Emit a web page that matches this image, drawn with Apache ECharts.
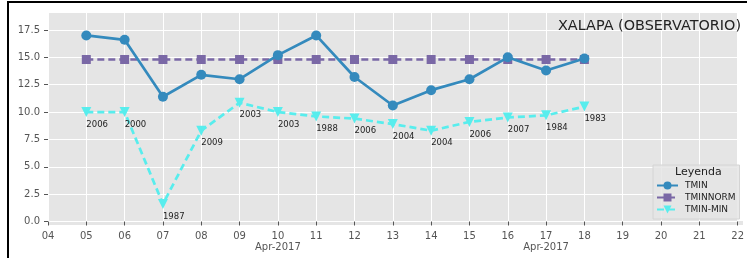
<!DOCTYPE html>
<html style="height: 100%">
<head>
<meta charset="utf-8">
<script src="https://cdn.jsdelivr.net/npm/echarts@6/dist/echarts.min.js"></script>
</head>
<body style="height: 100%; margin: 0; background: #fff">
<div style="position:absolute;left:7px;top:1px;width:740px;height:257px;border-left:2px solid #000;border-top:2px solid #000;box-sizing:border-box"></div>
<div id="container" style="position:absolute;left:0;top:0;width:747px;height:258px"></div>
<script type="text/javascript">
    // dias de abril 2017
    var days = [5, 6, 7, 8, 9, 10, 11, 12, 13, 14, 15, 16, 17, 18];
    var tmin = [17.0, 16.6, 11.4, 13.4, 13.0, 15.2, 17.0, 13.2, 10.6, 12.0, 13.0, 15.0, 13.8, 14.9];
    var tminNorm = [14.8, 14.8, 14.8, 14.8, 14.8, 14.8, 14.8, 14.8, 14.8, 14.8, 14.8, 14.8, 14.8, 14.8];
    var tminMin = [10.0, 10.0, 1.6, 8.3, 10.85, 10.0, 9.6, 9.4, 8.9, 8.3, 9.1, 9.5, 9.7, 10.5];
    var years = ['2006', '2000', '1987', '2009', '2003', '2003', '1988', '2006', '2004', '2004', '2006', '2007', '1984', '1983'];

    function pairs(vals) {
        return days.map(function (d, i) { return [d, vals[i]]; });
    }

    var font = 'DejaVu Sans';
    var dom = document.getElementById("container");
    var myChart = echarts.init(dom);
    var option = {
        animation: false,
        textStyle: { fontFamily: font },
        legend: {
            orient: 'vertical',
            left: 653, top: 165,
            padding: [16, 4, 5, 3],
            itemGap: 3,
            itemWidth: 21,
            itemHeight: 10,
            backgroundColor: 'rgba(229,229,229,0.85)',
            borderColor: '#d4d4d4',
            borderWidth: 1,
            textStyle: { fontFamily: font, fontSize: 9, color: '#222', padding: [0, 0, 0, 2] },
            data: ['TMIN', 'TMINNORM', 'TMIN-MIN']
        },
        graphic: [{
            // franja inferior del fondo bajo el 0.0
            type: 'rect', z: -10,
            shape: { x: 48, y: 221, width: 695, height: 4 },
            style: { fill: '#e5e5e5' }
        }, {
            type: 'text', z: 50,
            x: 558, y: 19,
            style: { text: 'XALAPA (OBSERVATORIO)', font: '14.4px "DejaVu Sans"', fill: '#222' }
        }, {
            type: 'text', z: 50,
            x: 675, y: 167,
            style: { text: 'Leyenda', font: '11px "DejaVu Sans"', fill: '#222' }
        }],
        grid: { left: 48, right: 4, top: 13, bottom: 36.5, show: true, backgroundColor: '#e5e5e5', borderWidth: 0 },
        xAxis: {
            type: 'value',
            min: 4, max: 22, interval: 1,
            offset: 3.5,
            axisLine: { show: false },
            axisTick: { show: true, length: 4, lineStyle: { color: '#555' } },
            axisLabel: {
                fontFamily: font, fontSize: 10, color: '#555', margin: 6, lineHeight: 11,
                formatter: function (v) {
                    var s = (v < 10 ? '0' : '') + v;
                    if (v === 10 || v === 17) s += '\nApr-2017';
                    return s;
                }
            },
            splitLine: { show: true, lineStyle: { color: '#fff', width: 1 } }
        },
        yAxis: {
            type: 'value',
            min: 0, max: 19.05, interval: 2.5,
            axisLine: { show: false },
            axisTick: { show: true, length: 4, lineStyle: { color: '#555' } },
            axisLabel: {
                fontFamily: font, fontSize: 10, color: '#555', margin: 8,
                showMaxLabel: false,
                formatter: function (v) { return v.toFixed(1); }
            },
            splitLine: { show: true, showMaxLine: false, lineStyle: { color: '#fff', width: 1 } }
        },
        series: [{
            name: 'TMIN',
            type: 'line',
            data: pairs(tmin),
            symbol: 'circle', symbolSize: 10,
            color: '#348ABD',
            lineStyle: { width: 2.7 },
            z: 3
        }, {
            name: 'TMINNORM',
            type: 'line',
            data: pairs(tminNorm),
            symbol: 'rect', symbolSize: 9,
            color: '#7A68A6',
            lineStyle: { width: 2.7, type: [7, 4] },
            z: 2
        }, {
            name: 'TMIN-MIN',
            type: 'line',
            data: pairs(tminMin),
            symbol: 'triangle', symbolSize: 10, symbolRotate: 180,
            color: '#58EDED',
            lineStyle: { width: 2.7, type: [7, 4] },
            label: {
                show: true,
                position: [5, 13],
                align: 'left', verticalAlign: 'top',
                fontFamily: font, fontSize: 8.5, color: '#222',
                formatter: function (p) { return years[p.dataIndex]; }
            },
            z: 2
        }]
    };
    myChart.setOption(option);
</script>
</body>
</html>
